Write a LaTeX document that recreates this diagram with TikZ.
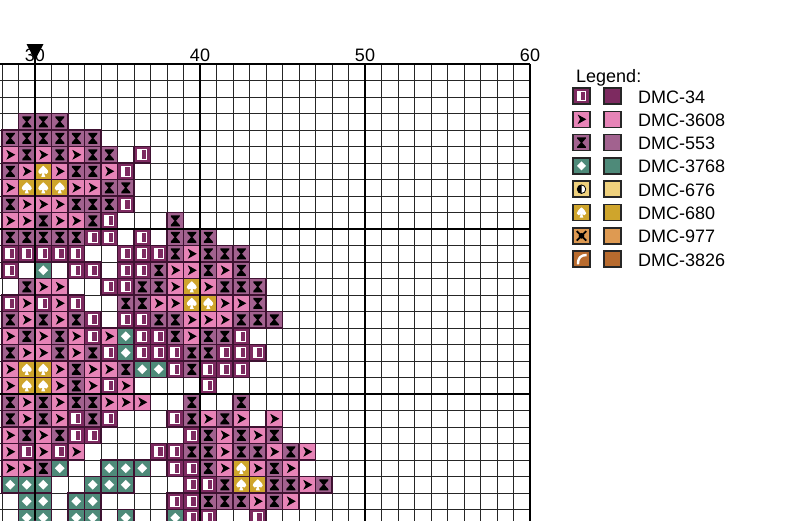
\documentclass[tikz,border=0pt]{standalone}
\usepackage{fontspec}
\setmainfont{Liberation Sans}
\definecolor{c34}{HTML}{7D2A60}
\definecolor{c3608}{HTML}{E784B7}
\definecolor{c553}{HTML}{A2628F}
\definecolor{c3768}{HTML}{4E8A79}
\definecolor{c676}{HTML}{EFD17D}
\definecolor{c680}{HTML}{CFA52C}
\definecolor{c977}{HTML}{DE9A52}
\definecolor{c3826}{HTML}{B86B2E}
\definecolor{cellline}{HTML}{3E1231}
\tikzset{
  cellbg/.style={fill=#1, draw=cellline, line width=1.2pt},
  legbox/.style={fill=#1, draw=black!85, line width=1.6pt},
  gridthin/.style={draw=black!85, line width=0.8pt},
  gridthick/.style={draw=black, line width=1.8pt},
  numlabel/.style={font=\fontsize{18}{20}\selectfont, anchor=base, inner sep=0pt},
  legtext/.style={font=\fontsize{18}{20}\selectfont, anchor=base west, inner sep=0pt},
  symB/.pic={\fill[white] (-4.5,-5) rectangle (-0.5,5);
             \draw[white,line width=1.1pt] (-4.5,-5) rectangle (4.5,5);},
  symA/.pic={\fill[black] (-4,-5) -- (5,0) -- (-4,5) -- (-1.5,0) -- cycle;},
  symH/.pic={\fill[black] (-4.5,-5.5) -- (4.5,-5.5) -- (4.5,-4.3) -- (0.7,0) -- (4.5,4.3) -- (4.5,5.5)
             -- (-4.5,5.5) -- (-4.5,4.3) -- (-0.7,0) -- (-4.5,-4.3) -- cycle;},
  symD/.pic={\fill[white] (0,-4.8) -- (4.8,0) -- (0,4.8) -- (-4.8,0) -- cycle;},
  symS/.pic={\fill[white] (0,-5.5) .. controls (-1.5,-3.5) and (-5,-1.8) .. (-5,0.8)
             .. controls (-5,3) and (-2,3.5) .. (-0.7,1.8) -- (-2,5.5) -- (2,5.5) -- (0.7,1.8)
             .. controls (2,3.5) and (5,3) .. (5,0.8) .. controls (5,-1.8) and (1.5,-3.5) .. (0,-5.5) -- cycle;},
  symHalfCircle/.pic={\fill[white] (0,0) circle (4.5);
             \begin{scope}\clip (-5,-5) rectangle (0,5); \fill[black] (0,0) circle (4.5);\end{scope}
             \draw[black,line width=0.8pt] (0,0) circle (4.5);},
  symCross/.pic={\draw[black,line width=1.8pt] (-5,-5) -- (5,5) (-5,5) -- (5,-5);
             \fill[black] (0,0) circle (3);},
  symArc/.pic={\fill[white] (-5,5.5) .. controls (-5,-2) and (-2,-5.5) .. (5.5,-5.5) -- (5.5,-3)
             .. controls (0,-3) and (-2.5,-1) .. (-2.5,5.5) -- cycle;},
  cellB/.pic={\path[cellbg=c34] (-8.25,-8.25) rectangle (8.25,8.25); \pic{symB};},
  cellA/.pic={\path[cellbg=c3608] (-8.25,-8.25) rectangle (8.25,8.25); \pic{symA};},
  cellH/.pic={\path[cellbg=c553] (-8.25,-8.25) rectangle (8.25,8.25); \pic{symH};},
  cellD/.pic={\path[cellbg=c3768] (-8.25,-8.25) rectangle (8.25,8.25); \pic{symD};},
  cellS/.pic={\path[cellbg=c680] (-8.25,-8.25) rectangle (8.25,8.25); \pic{symS};},
}
\begin{document}
\begin{tikzpicture}[x=1pt,y=-1pt]
\useasboundingbox (0,0) rectangle (792,520);
\fill[white] (0,0) rectangle (792,520);
\begin{scope}
\clip (0,0) rectangle (792,520);
% thin grid
\foreach \k in {0,...,32} \draw[gridthin] ({2+16.5*\k},64) -- ({2+16.5*\k},530);
\foreach \k in {0,...,28} \draw[gridthin] (0,{64+16.5*\k}) -- (530,{64+16.5*\k});
% stitched cells
\foreach \row [count=\j from 0] in {%
{O,O,O,O,O,O,O,O,O,O,O,O,O,O,O,O,O,O,O,O},%
{O,O,O,O,O,O,O,O,O,O,O,O,O,O,O,O,O,O,O,O},%
{O,O,O,O,O,O,O,O,O,O,O,O,O,O,O,O,O,O,O,O},%
{O,H,H,H,O,O,O,O,O,O,O,O,O,O,O,O,O,O,O,O},%
{H,H,H,H,H,H,O,O,O,O,O,O,O,O,O,O,O,O,O,O},%
{A,H,A,H,A,H,H,O,B,O,O,O,O,O,O,O,O,O,O,O},%
{H,A,S,A,H,H,A,B,O,O,O,O,O,O,O,O,O,O,O,O},%
{A,S,S,S,A,A,H,H,O,O,O,O,O,O,O,O,O,O,O,O},%
{H,A,A,A,H,H,H,B,O,O,O,O,O,O,O,O,O,O,O,O},%
{A,A,H,A,A,H,B,O,O,O,H,O,O,O,O,O,O,O,O,O},%
{H,H,H,H,H,B,B,O,B,O,H,H,H,O,O,O,O,O,O,O},%
{B,B,B,B,B,O,O,B,B,B,H,A,H,H,H,O,O,O,O,O},%
{B,O,D,O,B,B,O,B,B,H,A,A,H,A,H,O,O,O,O,O},%
{O,H,A,A,O,O,B,B,H,H,A,S,A,H,H,H,O,O,O,O},%
{B,A,B,A,B,O,O,H,H,A,A,S,S,A,A,H,O,O,O,O},%
{H,A,H,A,H,B,O,B,B,H,H,A,A,A,H,H,H,O,O,O},%
{A,H,A,H,A,B,A,D,B,B,H,A,H,H,B,O,O,O,O,O},%
{H,A,A,H,A,H,B,D,B,B,B,H,H,B,B,B,O,O,O,O},%
{A,S,S,A,H,A,A,H,D,D,B,H,B,B,B,O,O,O,O,O},%
{A,S,S,A,H,A,B,A,O,O,O,O,B,O,O,O,O,O,O,O},%
{H,A,H,A,H,H,A,A,A,O,O,H,O,O,H,O,O,O,O,O},%
{H,A,H,A,B,H,B,O,O,O,B,H,A,H,A,O,A,O,O,O},%
{A,H,A,H,B,B,O,O,O,O,O,B,H,A,H,A,H,O,O,O},%
{A,B,A,B,A,O,O,O,O,B,B,H,H,A,H,H,A,H,A,O},%
{A,A,H,D,O,O,D,D,D,O,B,B,H,A,S,A,H,A,O,O},%
{D,D,D,O,O,D,D,D,O,O,O,B,B,H,S,S,H,H,A,H},%
{O,D,D,O,D,D,O,O,O,O,B,B,H,H,H,A,H,A,O,O},%
{O,D,D,O,D,D,O,D,O,O,D,B,B,O,O,B,O,O,O,O}%
} {
  \foreach \c [count=\i from 0] in \row {
    \if\c O\else \pic at ({10.25+16.5*\i},{72.25+16.5*\j}) {cell\c};\fi
  }
}
% thick grid lines
\draw[gridthick] (0,64) -- (530,64);
\draw[gridthick] (0,229) -- (530,229);
\draw[gridthick] (0,394) -- (530,394);
\draw[gridthick] (200,64) -- (200,530);
\draw[gridthick] (365,64) -- (365,530);
\draw[gridthick] (530,64) -- (530,530);
\end{scope}
% column numbers
\node[numlabel] (n30) at (35,61) {30};
\node[numlabel] (n40) at (200,61) {40};
\node[numlabel] (n50) at (365,61) {50};
\node[numlabel] (n60) at (530,61) {60};
% centre marker
\fill[black] (26.5,44) -- (43.5,44) -- (35,60) -- cycle;
\draw[black,line width=2pt] (35,58) -- (35,520);
% legend
\node[legtext] (legtitle) at (576,82) {Legend:};
\foreach \k/\col/\sym/\txt in {0/c34/symB/DMC-34, 1/c3608/symA/DMC-3608, 2/c553/symH/DMC-553,
  3/c3768/symD/DMC-3768, 4/c676/symHalfCircle/DMC-676, 5/c680/symS/DMC-680,
  6/c977/symCross/DMC-977, 7/c3826/symArc/DMC-3826} {
  \path[legbox=\col] (573,{88+23.3*\k}) rectangle (590,{104+23.3*\k});
  \pic[scale=0.95] at (581.5,{96+23.3*\k}) {\sym};
  \path[legbox=\col] (604,{88+23.3*\k}) rectangle (621,{104+23.3*\k});
  \node[legtext] (leg\k) at (638,{103+23.3*\k}) {\txt};
}
\end{tikzpicture}
\end{document}
